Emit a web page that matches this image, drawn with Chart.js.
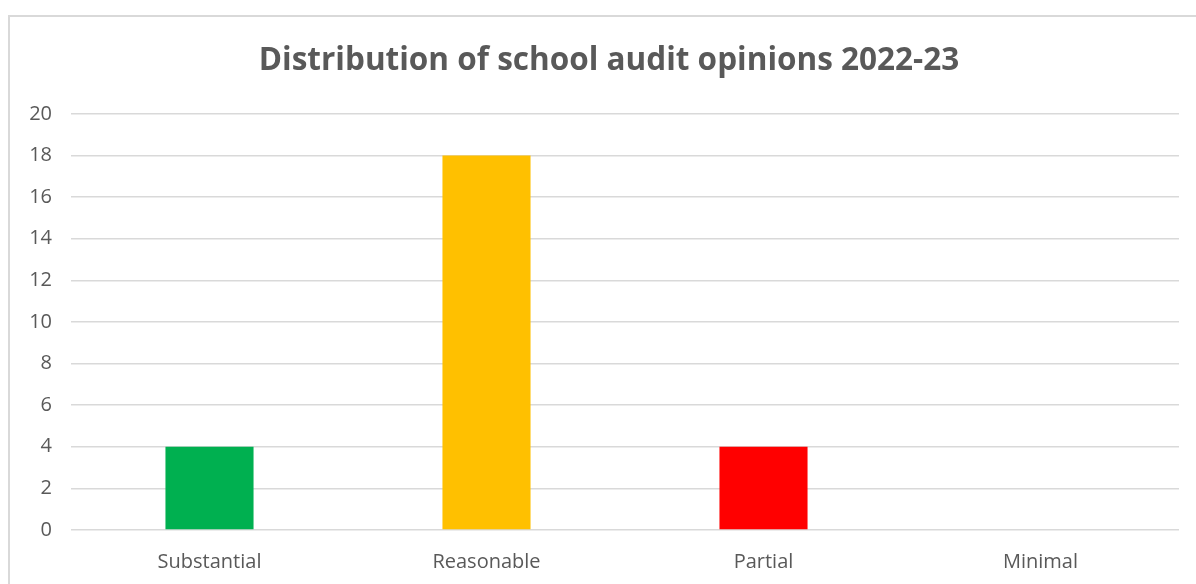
<!DOCTYPE html>
<html>
<head>
<meta charset="utf-8">
<script src="https://cdn.jsdelivr.net/npm/chart.js@4/dist/chart.umd.min.js"></script>
<style>
    html, body { margin: 0; padding: 0; background: #fff; overflow: hidden; }
    #box {
        position: absolute;
        left: 8px;
        top: 15px;
        width: 1200px;
        height: 600px;
        border-left: 2px solid #d9d9d9;
        border-top: 2px solid #d9d9d9;
        box-sizing: border-box;
    }
    #wrap { position: absolute; left: 0; top: 0; width: 1198px; height: 581px; }
</style>
</head>
<body>
<div id="box"><div id="wrap"><canvas id="auditChart"></canvas></div></div>
<script>
const categories = ["Substantial", "Reasonable", "Partial", "Minimal"];
const opinionCounts = [4, 18, 4, 0];
const barColours = ["#00B050", "#FFC000", "#FF0000", "#7F7F7F"];
const yTicks = [0, 2, 4, 6, 8, 10, 12, 14, 16, 18, 20];

const gray = "#595959";

new Chart(document.getElementById("auditChart"), {
    type: "bar",
    data: {
        labels: categories,
        datasets: [
            {
                label: "Opinions",
                data: opinionCounts,
                backgroundColor: barColours,
                borderWidth: 0,
                categoryPercentage: 1,
                barPercentage: 0.318,
            },
        ],
    },
    options: {
        responsive: true,
        maintainAspectRatio: false,
        animation: false,
        plugins: {
            legend: { display: false },
            tooltip: { enabled: false },
            title: {
                display: true,
                text: "Distribution of school audit opinions 2022-23",
                color: gray,
                font: { family: "Open Sans", size: 31.5, weight: "bold" },
                padding: { top: 25, bottom: 34 },
            },
        },
        scales: {
            x: {
                grid: { display: false },
                border: { display: false },
                ticks: {
                    color: gray,
                    font: { family: "Open Sans", size: 20 },
                    padding: 12,
                },
                afterFit: (s) => { s.height = 68; },
            },
            y: {
                min: 0,
                max: 20,
                afterBuildTicks: (s) => { s.ticks = yTicks.map((v) => ({ value: v })); },
                grid: { color: "#d9d9d9", lineWidth: 1.5, drawTicks: false },
                border: { display: false },
                ticks: {
                    color: gray,
                    font: { family: "Open Sans", size: 20 },
                    padding: 19,
                },
                afterFit: (s) => { s.width = 61; },
            },
            // empty axis on the right, just keeps a gap so the title stays centred
            yGap: {
                position: "right",
                grid: { display: false },
                border: { display: false },
                ticks: { display: false },
                afterFit: (s) => { s.width = 29; },
            },
        },
    },
});
</script>
</body>
</html>
